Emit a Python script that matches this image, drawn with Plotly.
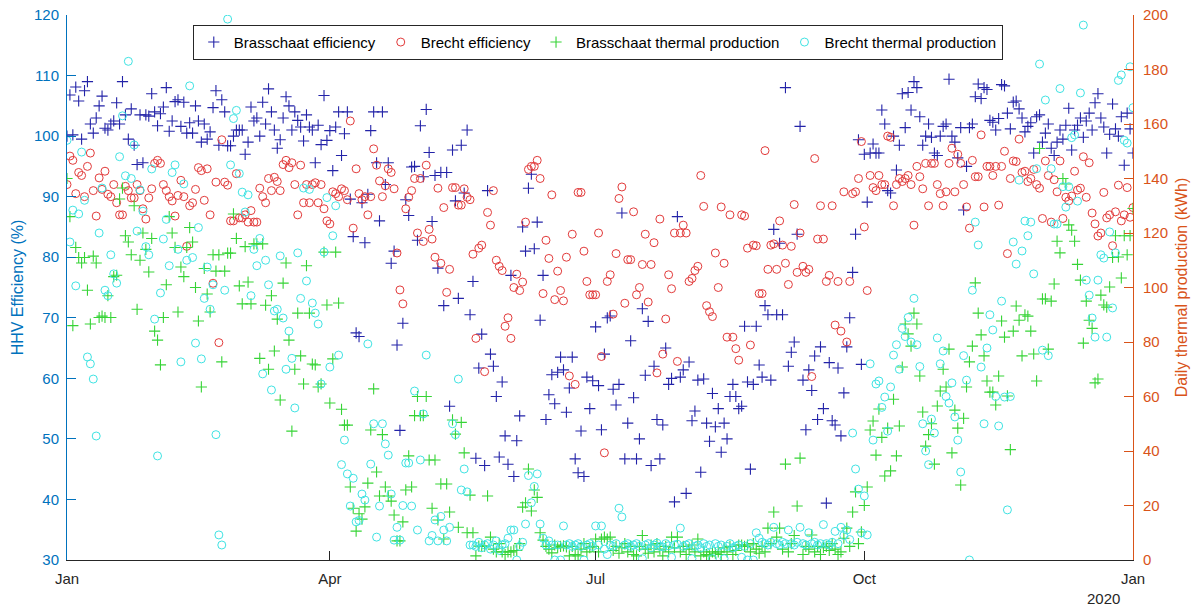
import pandas as pd
import plotly.graph_objects as go

# ---------------- data (daily, from 2019-01-01) ----------------
brasschaat_eff = [
    100.0, 106.8, 100.2, 108.1, 105.8, 99.5, 107.5, 109.0, 102.0, 100.5,
    103.0, 105.0, 106.6, 101.3, 101.0, 102.0, 102.5, 105.5, 102.0, 109.0,
    103.5, 99.5, 104.5, 98.5, 95.3, 103.5, 95.6, 103.5, 103.3, 107.0,
    104.0, 101.7, 103.7, 104.8, 108.0, 100.8, 102.5, 105.7, 106.0, 101.6,
    105.6, 100.5, 102.2, 100.5, 105.0, 102.5, 99.0, 102.0, 99.5, 100.7,
    104.7, 107.5, 98.5, 106.0, 104.0, 98.4, 98.4, 100.0, 101.0, 101.0,
    101.0, 97.0, 99.0, 104.8, 102.5, 103.0, 100.0, 105.6, 102.0, 107.8,
    104.0, 101.0, 98.0, 99.4, 103.0, 106.5, 105.0, 101.0, 104.0, 102.6,
    101.5, 99.2, 103.5, 101.5, 101.0, 95.6, 101.8, 98.6, 106.7, 99.3,
    100.9, 94.3, 101.5, 104.0, 96.8, 100.4, 104.0, 89.6, 83.4, 67.5,
    66.9, 89.0, 82.4, 90.4, 100.9, 104.0, 95.6, 86.0, 104.0, 92.0,
    95.6, 79.0, 81.0, 65.5, 51.4, 69.1, 89.5, 86.9, 94.9, 95.0,
    82.8, 101.7, 93.3, 104.4, 97.3, 85.9, 93.5, 78.2, 94.0, 72.0,
    94.0, 55.4, 97.7, 89.3, 73.2, 98.5, 90.6, 101.0, 70.5, 76.0,
    46.8, 61.7, 67.3, 45.6, 91.0, 64.0, 62.0, 57.0, 47.0, 59.4,
    50.5, 45.8, 77.0, 43.8, 49.7, 53.8, 85.0, 81.0, 91.4, 93.7,
    81.4, 85.8, 69.6, 77.0, 53.2, 57.3, 60.6, 55.8, 61.0, 63.5,
    61.4, 54.4, 58.4, 63.5, 46.7, 44.4, 51.3, 43.8, 60.2, 55.0,
    59.6, 68.5, 58.8, 51.5, 64.0, 70.0, 70.3, 58.2, 55.6, 59.0,
    87.3, 46.7, 52.6, 66.2, 56.8, 46.7, 50.0, 71.5, 60.5, 69.4,
    45.6, 62.0, 53.2, 46.7, 52.3, 65.0, 59.0, 60.0, 39.6, 86.7,
    60.2, 61.4, 41.0, 62.7, 53.0, 54.6, 59.7, 44.5, 59.9, 52.6,
    49.6, 57.5, 52.0, 55.0, 47.8, 52.6, 50.0, 57.0, 59.0, 57.0,
    55.0, 55.4, 68.6, 59.4, 45.0, 59.0, 68.6, 62.2, 60.2, 72.0,
    70.5, 59.7, 84.6, 70.5, 82.3, 70.5, 108.0, 62.0, 64.3, 66.0,
    83.8, 101.6, 59.7, 51.5, 61.4, 58.0, 63.7, 53.2, 65.2, 55.0,
    39.4, 62.6, 53.0, 52.3, 61.7, 50.5, 57.6, 65.2, 70.0, 77.5,
    83.8, 99.4, 62.3, 97.0, 89.1, 97.2, 98.7, 97.2, 97.2, 104.3,
    102.0, 91.0, 90.6, 100.0, 94.4, 98.5, 107.0, 101.4, 107.2, 104.3,
    109.0, 108.0, 103.2, 98.5, 100.0, 102.0, 99.8, 97.2, 96.8, 100.0,
    101.6, 102.0, 109.4, 100.0, 99.0, 96.4, 101.4, 87.8, 95.0, 101.4,
    102.0, 106.5, 108.6, 106.2, 108.0, 107.7, 102.6, 102.3, 101.0, 102.9,
    108.5, 108.3, 103.8, 101.2, 105.6, 105.8, 104.5, 103.0, 100.7, 101.6,
    102.2, 97.2, 103.2, 103.5, 99.0, 100.5, 102.0, 98.0, 96.8, 99.0,
    101.0, 99.5, 101.8, 104.6, 97.7, 101.0, 101.8, 103.0, 99.8, 102.5,
    103.8, 101.0, 105.5, 107.0, 103.0, 101.5, 97.2, 100.3, 105.3, 101.2,
    100.0, 103.2, 95.2, 103.8, 101.2, 97.2,
]

brecht_eff = [
    92.0, 96.7, 96.0, 90.5, 94.0, 93.5, 90.0, 95.0, 97.2, 91.0,
    86.8, 93.1, 91.2, 94.2, 90.4, 90.0, 92.0, 89.0, 87.0, 87.0,
    91.7, 91.0, 89.8, 89.8, 92.0, 91.0, 88.0, 86.3, 89.8, 91.3,
    95.5, 96.0, 95.5, 92.0, 91.0, 90.0, 89.3, 86.8, 90.2, 92.7,
    90.0, 81.8, 88.5, 89.0, 91.2, 94.8, 94.3, 89.4, 94.6, 87.0,
    75.7, 92.4, 65.9, 99.4, 92.4, 91.9, 86.0, 86.0, 93.8, 86.5,
    86.5, 87.0, 85.8, 87.7, 85.8, 85.8, 91.4, 90.0, 89.0, 93.0,
    91.0, 93.2, 92.5, 91.0, 95.3, 96.0, 94.8, 95.6, 92.0, 87.0,
    95.2, 89.0, 92.0, 89.0, 92.0, 92.3, 89.0, 92.0, 88.0, 86.0,
    85.5, 90.8, 90.5, 90.0, 91.3, 91.0, 89.5, 102.5, 84.8, 94.6,
    90.5, 89.5, 90.0, 87.0, 90.0, 97.9, 95.2, 92.6, 90.0, 91.8,
    94.6, 94.0, 91.3, 80.7, 74.6, 72.3, 88.0, 89.9, 91.0, 93.0,
    84.0, 93.0, 82.6, 95.2, 84.6, 83.0, 80.0, 91.4, 79.0, 88.2,
    74.2, 78.0, 91.5, 91.5, 88.6, 88.6, 91.3, 89.9, 89.5, 80.5,
    66.6, 81.5, 82.0, 61.1, 87.4, 85.3, 91.0, 79.5, 78.5, 77.8,
    68.6, 70.0, 66.6, 75.0, 77.2, 74.5, 75.9, 85.8, 94.5, 95.0,
    95.0, 96.0, 93.0, 74.0, 82.8, 79.8, 90.3, 73.0, 77.7, 74.5,
    72.8, 80.0, 60.4, 83.8, 59.0, 90.7, 90.7, 81.0, 76.0, 73.8,
    73.8, 73.8, 84.0, 63.6, 47.7, 76.0, 77.1, 70.6, 80.6, 89.7,
    91.6, 72.4, 79.6, 79.6, 87.5, 73.8, 75.0, 78.8, 83.8, 72.6,
    78.8, 82.4, 60.9, 86.3, 64.0, 69.8, 77.1, 74.8, 84.0, 62.8,
    84.0, 85.3, 84.0, 76.0, 76.5, 77.8, 78.5, 93.5, 88.4, 72.0,
    71.0, 70.2, 80.7, 75.0, 88.3, 79.0, 66.8, 87.0, 66.8, 64.9,
    63.0, 87.0, 86.8, 81.5, 65.5, 82.0, 81.9, 74.0, 74.0, 97.6,
    78.0, 82.0, 82.2, 78.0, 86.0, 82.0, 79.0, 75.5, 81.8, 88.7,
    77.5, 84.0, 78.5, 77.5, 78.0, 60.3, 96.3, 83.0, 88.5, 83.0,
    76.0, 77.0, 88.5, 68.8, 76.0, 67.8, 90.8, 66.0, 76.0, 90.5,
    90.8, 93.0, 99.1, 85.0, 74.5, 93.5, 91.5, 91.0, 93.5, 92.0,
    92.0, 100.0, 99.8, 88.5, 92.0, 93.0, 92.5, 93.0, 93.5, 92.0,
    85.3, 95.0, 93.3, 91.3, 95.5, 88.5, 95.5, 95.5, 92.0, 90.5,
    88.5, 90.8, 95.5, 98.0, 90.8, 97.0, 95.5, 92.0, 88.3, 84.8,
    96.0, 93.3, 93.3, 100.2, 88.3, 95.0, 95.0, 93.5, 95.0, 88.6,
    95.0, 97.5, 80.6, 93.0, 95.9, 95.8, 99.5, 94.0, 94.2, 92.5,
    93.0, 94.5, 92.0, 91.4, 86.4, 95.9, 93.5, 85.8, 92.8, 90.8,
    95.9, 86.4, 89.9, 89.3, 90.1, 94.2, 91.1, 91.4, 96.6, 89.9,
    95.6, 87.3, 85.5, 83.5, 84.0, 90.7, 86.5, 87.0, 81.9, 87.5,
    91.9, 86.0, 87.0, 91.5, 86.6, 88.2,
]

brasschaat_thermal = [
    140.0, 126.0, 86.0, 114.7, 111.0, 109.0, 111.0, 99.0, 86.6, 111.5,
    109.0, 89.0, 89.5, 89.0, 97.0, 89.0, 104.0, 104.5, 132.5, 136.5,
    119.0, 116.7, 112.0, 130.0, 92.0, 110.0, 120.0, 114.0, 105.7, 118.0,
    84.0, 80.7, 71.6, 89.0, 101.0, 126.0, 120.0, 114.7, 91.0, 107.5,
    104.0, 114.7, 122.0, 116.7, 100.0, 87.7, 63.5, 107.0, 97.6, 91.0,
    112.0, 106.0, 112.0, 72.7, 106.0, 112.6, 112.6, 127.0, 118.0, 100.6,
    94.0, 115.0, 102.0, 94.0, 116.0, 116.0, 74.0, 116.0, 93.5, 70.0,
    97.0, 76.7, 88.4, 58.7, 101.6, 109.0, 80.7, 47.3, 70.0, 90.6,
    74.9, 64.6, 108.0, 90.6, 71.9, 71.6, 63.5, 64.6, 113.0, 93.6,
    57.6, 73.8, 113.0, 94.3, 55.3, 49.5, 49.5, 26.8, 19.0, 10.6,
    17.0, 15.0, 19.5, 28.2, 47.7, 62.8, 32.3, 23.5, 46.0, 26.8,
    23.5, 21.6, 16.5, 7.0, 7.0, 14.0, 25.7, 38.2, 26.8, 53.0,
    60.0, 53.0, 53.0, 60.0, 36.7, 19.0, 36.7, 14.7, 27.9, 7.7,
    27.9, 17.6, 51.4, 46.2, 12.0, 50.5, 39.3, 10.0, 23.8, 10.0,
    1.5, 5.1, 5.1, 5.1, 23.5, 8.4, 4.0, 3.0, 6.0, 3.0,
    2.0, 3.0, 3.0, 3.5, 3.5, 6.0, 19.4, 21.0, 33.4, 18.0,
    25.7, 23.0, 10.0, 7.3, 5.0, 4.0, 2.6, 5.5, 4.5, 5.0,
    5.2, 4.8, 1.5, 5.0, 2.0, 1.5, 4.0, 6.0, 3.0, 4.5,
    5.0, 7.7, 3.0, 7.7, 8.4, 7.7, 8.4, 3.5, 5.0, 2.5,
    4.5, 6.0, 3.0, 5.0, 2.0, 1.5, 5.0, 9.0, 4.0, 2.5,
    5.5, 3.0, 6.0, 4.0, 1.5, 5.0, 3.0, 8.4, 4.5, 8.4,
    3.0, 5.0, 2.0, 4.0, 5.5, 3.0, 7.7, 1.5, 3.0, 2.0,
    1.5, 3.0, 2.5, 3.0, 2.0, 4.5, 3.0, 5.0, 2.0, 3.5,
    5.5, 5.5, 5.0, 5.5, 3.0, 6.0, 4.0, 2.5, 5.0, 3.0,
    11.7, 6.0, 17.6, 8.4, 11.7, 4.0, 35.2, 3.0, 6.0, 9.0,
    19.8, 37.4, 2.0, 5.0, 4.0, 9.2, 3.0, 5.0, 2.0, 4.5,
    5.0, 3.5, 6.0, 4.0, 2.0, 3.0, 8.0, 11.7, 5.0, 17.6,
    25.0, 6.0, 10.3, 20.0, 26.8, 47.7, 51.0, 38.5, 55.4, 45.0,
    30.8, 48.4, 32.7, 59.0, 38.2, 49.2, 70.8, 86.6, 83.0, 78.5,
    90.6, 86.6, 67.5, 54.3, 41.8, 46.0, 50.0, 35.2, 56.5, 62.0,
    70.0, 63.5, 77.4, 39.3, 55.0, 48.4, 27.5, 52.0, 63.5, 72.7,
    78.5, 101.7, 90.6, 82.6, 74.9, 65.7, 61.6, 61.6, 56.9, 67.5,
    87.7, 81.8, 60.2, 40.5, 84.0, 93.2, 88.0, 74.9, 90.0, 89.5,
    84.0, 75.6, 65.7, 151.0, 95.8, 95.8, 77.4, 95.0, 101.3, 117.0,
    112.7, 140.0, 138.0, 123.0, 121.0, 117.0, 108.5, 102.7, 79.6, 95.0,
    88.0, 85.0, 65.0, 66.4, 97.2, 93.6, 92.8, 100.2, 111.0, 119.0,
    111.2, 103.5, 119.0, 112.0, 119.0, 129.0,
]

brecht_thermal = [
    154.0, 116.7, 128.4, 100.6, 127.0, 149.7, 132.0, 74.5, 72.0, 66.4,
    45.5, 120.0, 136.5, 99.0, 97.0, 112.0, 105.0, 101.6, 148.0, 163.0,
    141.0, 183.0, 140.0, 152.3, 120.7, 135.8, 128.0, 115.0, 112.0, 143.5,
    88.4, 38.2, 98.0, 117.8, 125.0, 108.0, 142.2, 145.0, 114.0, 72.7,
    138.0, 110.0, 174.0, 111.0, 79.6, 122.0, 73.8, 96.0, 107.5, 92.0,
    101.0, 46.0, 9.2, 5.5, 99.0, 198.5, 145.0, 162.0, 165.0, 141.8,
    135.0, 127.7, 134.0, 97.0, 114.0, 108.0, 118.0, 68.3, 110.0, 101.0,
    62.4, 91.4, 92.0, 111.6, 88.8, 70.0, 84.0, 74.0, 55.8, 112.7,
    96.0, 136.5, 102.4, 136.0, 94.3, 90.6, 86.6, 64.6, 113.0, 133.0,
    70.8, 119.0, 130.0, 75.2, 35.0, 44.0, 31.6, 19.8, 30.0, 14.0,
    14.5, 24.2, 22.0, 79.3, 35.2, 50.0, 8.4, 19.8, 50.0, 42.6,
    38.5, 24.2, 7.3, 12.0, 7.3, 20.0, 35.6, 35.6, 19.8, 62.0,
    11.0, 36.7, 53.6, 75.2, 7.0, 9.0, 14.7, 7.0, 16.0, 11.0,
    7.0, 12.0, 50.0, 46.0, 66.4, 25.7, 33.4, 25.0, 5.5, 5.5,
    5.0, 6.5, 4.5, 5.5, 6.0, 4.0, 5.5, 7.0, 3.5, 5.5,
    6.0, 8.0, 11.0, 11.0, 0.0, 5.0, 6.5, 13.2, 31.0, 21.0,
    27.0, 31.6, 13.2, 8.0, 5.5, 7.0, 5.5, 0.0, 5.5, 0.0,
    12.5, 5.5, 6.0, 5.0, 5.5, 6.0, 5.0, 0.0, 5.5, 6.0,
    5.0, 12.5, 5.5, 12.5, 4.0, 2.0, 5.5, 5.0, 6.0, 19.0,
    15.8, 5.5, 6.0, 5.0, 5.5, 6.0, 5.0, 0.5, 5.5, 6.0,
    4.5, 5.5, 6.2, 5.0, 4.8, 6.0, 5.2, 1.0, 5.5, 5.8,
    11.7, 5.0, 5.5, 6.0, 0.5, 5.0, 5.5, 4.5, 6.0, 5.0,
    5.5, 0.5, 6.0, 5.0, 5.5, 0.5, 5.0, 6.0, 4.5, 5.0,
    5.5, 1.0, 5.0, 0.0, 6.0, 0.0, 10.0, 8.0, 6.5, 6.0,
    5.5, 6.5, 12.0, 6.0, 5.5, 6.5, 6.0, 11.0, 6.0, 5.5,
    6.5, 12.0, 6.0, 5.5, 10.0, 6.0, 6.5, 5.5, 6.0, 13.0,
    6.0, 5.5, 6.5, 10.5, 6.0, 12.0, 9.0, 11.0, 7.5, 46.6,
    33.4, 26.0, 10.0, 23.5, 9.2, 72.0, 44.0, 64.6, 65.7, 56.0,
    59.8, 47.3, 63.5, 75.2, 79.0, 70.0, 85.0, 82.0, 89.0, 80.0,
    96.0, 79.0, 71.0, 50.0, 40.0, 35.0, 51.7, 46.6, 81.5, 72.0,
    76.7, 60.0, 57.6, 65.0, 52.5, 44.0, 32.3, 75.0, 66.0, 0.0,
    99.0, 124.0, 115.6, 70.8, 50.0, 77.8, 90.0, 84.4, 60.0, 49.2,
    95.0, 59.8, 18.4, 60.0, 116.7, 108.6, 139.4, 113.4, 124.4, 119.0,
    124.0, 105.0, 143.6, 182.0, 77.0, 168.8, 75.0, 143.6, 123.3, 123.3,
    173.0, 137.0, 129.5, 137.0, 155.0, 156.0, 131.7, 171.4, 196.3, 102.7,
    97.2, 88.8, 81.8, 102.7, 112.0, 110.8, 81.8, 120.4, 92.5, 112.7,
    176.0, 178.0, 154.0, 153.0, 181.0, 166.0,
]

dates = pd.date_range("2019-01-01", periods=len(brasschaat_eff), freq="D")

tick_dates = ["2019-01-01", "2019-04-01", "2019-07-01", "2019-10-01", "2020-01-01"]
tick_labels = ["Jan", "Apr", "Jul", "Oct", "Jan"]

BLUE_AX = "#0072BD"
ORANGE_AX = "#D95319"
FONT = "Liberation Sans, Arial, Helvetica, sans-serif"

C_BLUE = "#2323A8"
C_RED = "#E23A3A"
C_GREEN = "#36D436"
C_CYAN = "#3FE3E3"

fig = go.Figure()

fig.add_trace(go.Scatter(
    x=dates, y=brasschaat_eff, mode="markers", name="Brasschaat efficiency",
    marker=dict(symbol="cross-thin-open", size=8, color=C_BLUE, line=dict(color=C_BLUE, width=1.1)),
    yaxis="y"))
fig.add_trace(go.Scatter(
    x=dates, y=brecht_eff, mode="markers", name="Brecht efficiency",
    marker=dict(symbol="circle-open", size=8, color=C_RED, line=dict(color=C_RED, width=1)),
    yaxis="y"))
fig.add_trace(go.Scatter(
    x=dates, y=brasschaat_thermal, mode="markers", name="Brasschaat thermal production",
    marker=dict(symbol="cross-thin-open", size=8, color=C_GREEN, line=dict(color=C_GREEN, width=1.1)),
    yaxis="y2"))
fig.add_trace(go.Scatter(
    x=dates, y=brecht_thermal, mode="markers", name="Brecht thermal production",
    marker=dict(symbol="circle-open", size=8, color=C_CYAN, line=dict(color=C_CYAN, width=1)),
    yaxis="y2"))

fig.update_layout(
    width=1201, height=612,
    margin=dict(l=67, r=68, t=15, b=52, autoexpand=False),
    paper_bgcolor="white", plot_bgcolor="white",
    font=dict(family=FONT, size=15, color="#262626"),
    showlegend=True,
    legend=dict(
        orientation="h", x=0.118, y=0.982, xanchor="left", yanchor="top",
        bgcolor="white", bordercolor="#262626", borderwidth=1,
        font=dict(family=FONT, size=15, color="#000000"),
        itemwidth=30, tracegroupgap=0,
    ),
    xaxis=dict(
        type="date", range=["2019-01-01", "2020-01-01"],
        tickmode="array", tickvals=tick_dates, ticktext=tick_labels,
        ticks="inside", ticklen=9, tickcolor="#262626",
        showline=True, linecolor="#262626", linewidth=1,
        showgrid=False, zeroline=False, automargin=False,
        ticklabelstandoff=5,
        tickfont=dict(family=FONT, size=15, color="#262626"),
    ),
    yaxis=dict(
        range=[30, 120], dtick=10, tick0=30,
        ticks="inside", ticklen=9, tickcolor=BLUE_AX,
        showline=True, linecolor=BLUE_AX, linewidth=1,
        showgrid=False, zeroline=False, automargin=False,
        ticklabelstandoff=4,
        tickfont=dict(family=FONT, size=15, color=BLUE_AX),
        title=dict(text="HHV Efficiency (%)", font=dict(family=FONT, size=16, color=BLUE_AX), standoff=6),
    ),
    yaxis2=dict(
        range=[0, 200], dtick=20, tick0=0,
        overlaying="y", side="right", anchor="x",
        ticks="inside", ticklen=9, tickcolor=ORANGE_AX,
        showline=True, linecolor=ORANGE_AX, linewidth=1,
        showgrid=False, zeroline=False, automargin=False,
        ticklabelstandoff=6,
        tickfont=dict(family=FONT, size=15, color=ORANGE_AX),
        title=dict(text="Daily thermal production (kWh)", font=dict(family=FONT, size=16, color=ORANGE_AX), standoff=8),
    ),
    annotations=[dict(
        text="2020", xref="paper", yref="paper", x=0.972, y=-0.07,
        xanchor="center", yanchor="middle", showarrow=False,
        font=dict(family=FONT, size=15, color="#262626"),
    )],
)

fig.write_html("out.html", config={"displayModeBar": False},
               post_script="document.body.style.margin='0';")
